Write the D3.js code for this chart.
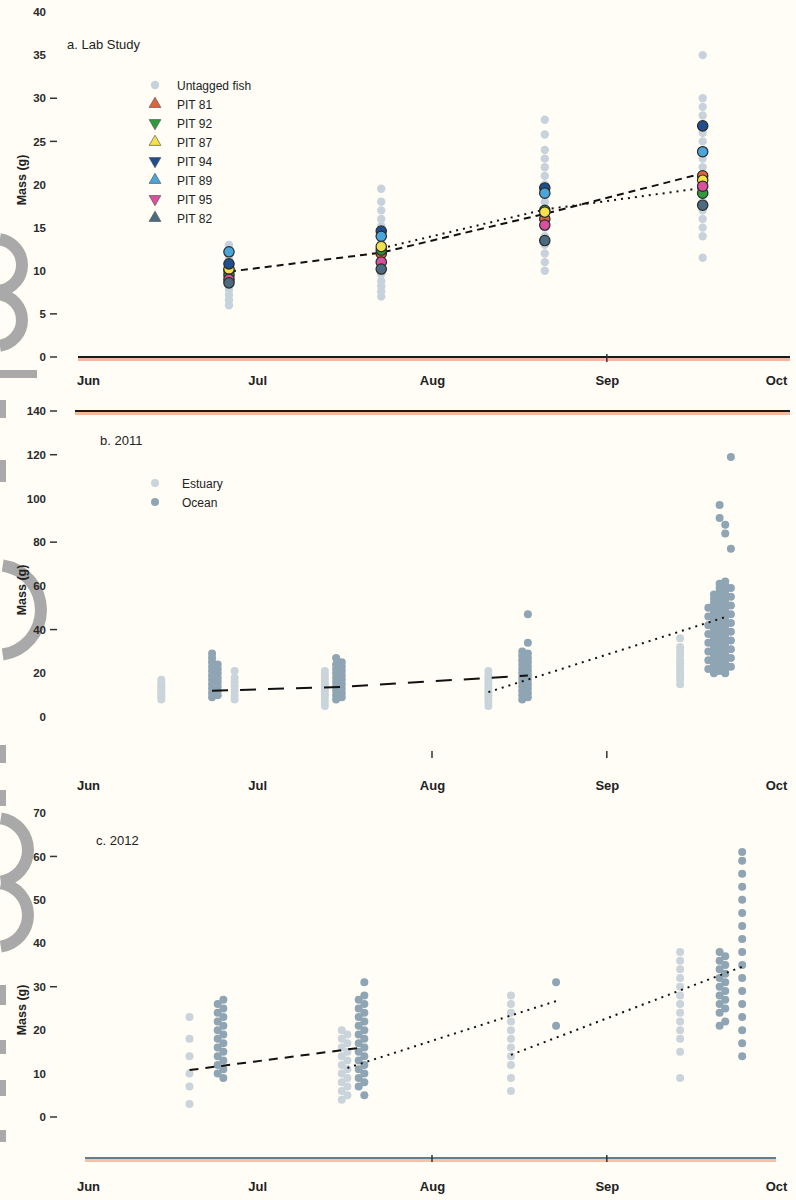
<!DOCTYPE html>
<html><head><meta charset="utf-8">
<script src="https://cdn.jsdelivr.net/npm/d3@7"></script>
<style>body{margin:0;background:#fffdf6;} svg{display:block;}</style>
</head><body>
<script>
// ---------------- DATA ----------------
const monthLabels = ["Jun","Jul","Aug","Sep","Oct"];
const yTicksA = [0,5,10,15,20,25,30,35,40];
const yTicksB = [0,20,40,60,80,100,120,140];
const yTicksC = [0,10,20,30,40,50,60,70];
const yTickMarksA = [0,5,25,30];
const yTickMarksB = [40,80,120,140];
const yTickMarksC = [0,30,60];

// Panel a: Lab study (2011)
const labDates = ["2011-06-26","2011-07-23","2011-08-21","2011-09-18"];
const untaggedLab = [
  [6,6.6,7.2,7.8,8.4,9,9.6,10.2,10.8,11.5,12.3,13],
  [7,7.6,8.2,8.8,9.6,10.4,11.2,12,12.8,13.6,14.4,15.2,16,17,18,19.5],
  [10,11,12,13,14,15,16,17,18,19,20,21,22,23,24,25.8,27.5],
  [11.5,14,15,16,17,18,19,20,21,22,23,24,25,26,27,28,29,30,35]
];
const pitNames = ["PIT 81","PIT 92","PIT 87","PIT 94","PIT 89","PIT 95","PIT 82"];
const pitColors = ["#e0643c","#2e9a3c","#f3e24a","#1f4f8f","#4aa6d8","#d9509e","#4c6b80"];
const pitShapes = ["up","down","up","down","up","down","up"];
const pitValues = [
  [10.0,12.0,16.0,21.0],
  [9.5,12.4,17.0,19.0],
  [10.2,12.8,16.8,20.5],
  [10.8,14.6,19.6,26.8],
  [12.2,14.0,19.0,23.8],
  [9.0,11.0,15.3,19.8],
  [8.6,10.2,13.5,17.6]
];
const labDashDates = ["2011-06-26","2011-07-23","2011-08-21","2011-09-18"];
const labDashValues = [9.9,12.1,16.6,21.3];
const labDotDates = ["2011-07-23","2011-08-21","2011-09-18"];
const labDotValues = [12.6,17.1,19.6];

// Panel b: 2011 field
const estuary2011Dates = ["2011-06-14","2011-06-27","2011-07-13","2011-08-11","2011-09-14"];
const estuary2011Values = [
  [8,9.5,10.5,11.5,12.5,13.5,14.5,15.5,17],
  [8,10,12,14,16,18,21],
  [5,7,9,10.5,12,13.5,15,16.5,18,19.5,21],
  [5,7,8.5,10,11.5,13,14.5,16,17.5,19,21],
  [15,17,18.5,20,21.5,23,24.5,26,28,30,32,36]
];
const ocean2011Dates = ["2011-06-23","2011-06-24","2011-07-15","2011-07-16","2011-08-17","2011-08-18",
                        "2011-09-19","2011-09-20","2011-09-21","2011-09-22","2011-09-23"];
const ocean2011Values = [
  [9,11,13,15,17,19,21,23,25,27,29],
  [10,12,14,16,18,20,22,24],
  [8,10,12,14,16,18,20,22,24,27],
  [9,11,13,15,17,19,21,23,25],
  [8,10,12,14,16,18,20,22,24,26,28,30],
  [9,11,13,15,17,19,21,23,25,27,29,34,47],
  [22,26,30,34,38,42,46,50],
  [20,22,24,26,28,30,32,34,36,38,40,42,44,46,48,50,52,54,56],
  [21,23,25,27,29,31,33,35,37,39,41,43,45,47,49,51,53,55,57,59,61,91,97],
  [20,22,24,26,28,30,32,34,36,38,40,42,44,46,48,50,52,54,56,58,60,62,84,88],
  [23,27,31,35,39,43,47,51,55,59,77,119]
];
const dash2011Dates = ["2011-06-23","2011-07-16","2011-08-18"];
const dash2011Values = [12,13.8,19];
const dot2011Dates = ["2011-08-11","2011-09-22"];
const dot2011Values = [11.4,45.7];

// Panel c: 2012 field
const estuary2012Dates = ["2012-06-19","2012-07-16","2012-07-17","2012-08-15","2012-09-14"];
const estuary2012Values = [
  [3,7,10,14,18,23],
  [4,6,8,10,12,14,16,18,20],
  [5,7,9,11,13,15,17,19],
  [6,9,12,14,16,18,20,22,24,26,28],
  [9,15,18,20,22,24,26,28,30,32,34,36,38]
];
const ocean2012Dates = ["2012-06-24","2012-06-25","2012-07-19","2012-07-20","2012-08-23",
                        "2012-09-21","2012-09-22","2012-09-25"];
const ocean2012Values = [
  [10,12,14,16,18,20,22,24,26],
  [9,11,13,15,17,19,21,23,25,27],
  [7,9,11,13,15,17,19,21,23,25,27],
  [5,8,10,12,14,16,18,20,22,24,26,28,31],
  [21,31],
  [21,24,26,28,30,32,34,36,38],
  [22,25,27,29,31,33,35,37],
  [14,17,20,23,26,29,32,35,38,41,44,47,50,53,56,59,61]
];
const dash2012Dates = ["2012-06-19","2012-07-19"];
const dash2012Values = [10.8,15.9];
const dotA2012Dates = ["2012-07-17","2012-08-23"];
const dotA2012Values = [11.3,26.7];
const dotB2012Dates = ["2012-08-15","2012-09-25"];
const dotB2012Values = [14.3,34.6];

// ---------------- DRAW ----------------
const W = 796, H = 1200;
const svg = d3.select("body").append("svg").attr("width", W).attr("height", H);
svg.append("rect").attr("width", W).attr("height", H).attr("fill", "#fffdf6");

const parse = d3.timeParse("%Y-%m-%d");
const FONT = "'Liberation Sans', Arial, sans-serif";
const estuaryColor = "#c9d4db", oceanColor = "#8fa5b3", untaggedColor = "#c6d3dc";

// left-edge grey decoration fragments
const deco = svg.append("g");
[[265,26],[320,26],[610,45],[850,32],[915,32]].forEach(([cy,r]) => {
  deco.append("path").attr("d", d3.arc()({innerRadius:r-6, outerRadius:r+6, startAngle:0.15, endAngle:Math.PI-0.15}))
    .attr("transform", `translate(-4,${cy})`).attr("fill", "#a9a9a9");
});
const decoBars = [[0,370,37,8],[0,400,6,18],[0,460,6,22],[0,745,6,18],[0,790,6,16],[0,985,6,20],[0,1040,6,14],[0,1080,6,16],[0,1130,6,12]];
svg.append("g").selectAll("rect").data(decoBars).join("rect")
  .attr("x", d=>d[0]).attr("y", d=>d[1]).attr("width", d=>d[2]).attr("height", d=>d[3]).attr("fill", "#a9a9a9");

function panel(cfg) {
  const x = d3.scaleTime().domain([parse(cfg.year+"-06-01"), parse(cfg.year+"-10-01")]).range([88, 776]);
  const y = d3.scaleLinear().domain(cfg.yDomain).range(cfg.yRange);
  const g = svg.append("g");

  const yAxis = d3.axisLeft(y).tickValues(cfg.yTicks).tickSize(0).tickPadding(0);
  const ya = g.append("g").attr("transform", "translate(46,0)").call(yAxis);
  ya.select(".domain").remove();
  ya.selectAll("text").attr("font-family", FONT).attr("font-size", 11.5).attr("font-weight", "bold").attr("fill", "#2a2a2a");
  g.selectAll(".ytm").data(cfg.yTickMarks).join("line")
    .attr("x1", 50).attr("x2", 57).attr("y1", d=>y(d)).attr("y2", d=>y(d))
    .attr("stroke", "#333").attr("stroke-width", 1.5);

  g.append("text").attr("transform", `translate(26,${cfg.titleY}) rotate(-90)`)
    .attr("text-anchor", "middle").attr("font-family", FONT).attr("font-size", 12.5).attr("font-weight", "bold")
    .attr("fill", "#222").text("Mass (g)");

  const months = d3.timeMonth.range(parse(cfg.year+"-06-01"), parse(cfg.year+"-10-02"));
  const xAxis = d3.axisBottom(x).tickValues(months).tickFormat((d,i)=>monthLabels[i]).tickSize(0).tickPadding(0);
  const xa = g.append("g").attr("transform", `translate(0,${cfg.monthY})`).call(xAxis);
  xa.select(".domain").remove();
  xa.selectAll("text").attr("dy", "0.35em").attr("font-family", FONT).attr("font-size", 13).attr("font-weight", "bold").attr("fill", "#222");

  g.append("text").attr("x", cfg.labelX).attr("y", cfg.labelY).attr("font-family", FONT).attr("font-size", 13)
    .attr("fill", "#222").text(cfg.label);

  return {g, x, y};
}

function axisLine(y0, x0, x1, color, halo) {
  svg.append("line").attr("x1", x0).attr("x2", x1).attr("y1", y0+1.5).attr("y2", y0+1.5)
    .attr("stroke", halo).attr("stroke-width", 5);
  svg.append("line").attr("x1", x0).attr("x2", x1).attr("y1", y0).attr("y2", y0)
    .attr("stroke", color).attr("stroke-width", 2);
}

function columns(g, x, y, dates, values, color, r) {
  const pts = [];
  dates.forEach((d,i) => values[i].forEach(v => pts.push({d:parse(d), v})));
  g.append("g").selectAll("circle").data(pts).join("circle")
    .attr("cx", p=>x(p.d)).attr("cy", p=>y(p.v)).attr("r", r).attr("fill", color);
}

function trend(g, x, y, dates, values, dash) {
  const line = d3.line().x(p=>x(p.d)).y(p=>y(p.v));
  g.append("path").datum(dates.map((d,i)=>({d:parse(d), v:values[i]})))
    .attr("d", line).attr("fill", "none").attr("stroke", "#111").attr("stroke-width", 2)
    .attr("stroke-dasharray", dash);
}

const sym = {up: d3.symbolTriangle, down: d3.symbolTriangle, circle: d3.symbolCircle};

// ---- Panel a ----
const A = panel({year:"2011", yDomain:[0,40], yRange:[357,12], yTicks:yTicksA, yTickMarks:yTickMarksA,
  titleY:180, monthY:380, label:"a. Lab Study", labelX:67, labelY:49});
axisLine(357, 78, 790, "#1a1a1a", "#f6b89c");
svg.append("line").attr("x1", A.x(parse("2011-09-01"))).attr("x2", A.x(parse("2011-09-01")))
  .attr("y1", 354).attr("y2", 362).attr("stroke", "#333").attr("stroke-width", 1.5);
columns(A.g, A.x, A.y, labDates, untaggedLab, untaggedColor, 4.2);
trend(A.g, A.x, A.y, labDashDates, labDashValues, "7,5");
trend(A.g, A.x, A.y, labDotDates, labDotValues, "2,5");
pitValues.forEach((vals,k) => {
  A.g.append("g").selectAll("circle").data(vals).join("circle")
    .attr("cx", (v,i)=>A.x(parse(labDates[i]))).attr("cy", v=>A.y(v)).attr("r", 5.2)
    .attr("fill", pitColors[k]).attr("stroke", "#2a2a2a").attr("stroke-width", 1.2);
});
const legA = svg.append("g");
const legAItems = [{name:"Untagged fish", color:untaggedColor, shape:"circle"}]
  .concat(pitNames.map((n,k)=>({name:n, color:pitColors[k], shape:pitShapes[k]})));
legAItems.forEach((it,i) => {
  const yy = 85 + i*19;
  legA.append("path").attr("d", d3.symbol().type(sym[it.shape]).size(it.shape==="circle"?55:60)())
    .attr("transform", `translate(155,${yy})` + (it.shape==="down" ? " rotate(180)" : ""))
    .attr("fill", it.color).attr("stroke", it.shape==="circle" ? "none" : "#444").attr("stroke-width", 0.6);
  legA.append("text").attr("x", 177).attr("y", yy+4.5).attr("font-family", FONT).attr("font-size", 12)
    .attr("fill", "#222").text(it.name);
});

// ---- Panel b ----
const B = panel({year:"2011", yDomain:[0,140], yRange:[717,411], yTicks:yTicksB, yTickMarks:yTickMarksB,
  titleY:590, monthY:785, label:"b. 2011", labelX:100, labelY:445});
axisLine(411, 75, 790, "#1a1a1a", "#f6b89c");
["2011-08-01","2011-09-01"].forEach(d => svg.append("line").attr("x1", B.x(parse(d))).attr("x2", B.x(parse(d)))
  .attr("y1", 751).attr("y2", 758).attr("stroke", "#333").attr("stroke-width", 1.5));
columns(B.g, B.x, B.y, estuary2011Dates, estuary2011Values, estuaryColor, 4);
columns(B.g, B.x, B.y, ocean2011Dates, ocean2011Values, oceanColor, 4);
trend(B.g, B.x, B.y, dash2011Dates, dash2011Values, "16,12");
trend(B.g, B.x, B.y, dot2011Dates, dot2011Values, "2,5");
const legB = svg.append("g");
[["Estuary", estuaryColor],["Ocean", oceanColor]].forEach(([n,c],i) => {
  const yy = 483 + i*19;
  legB.append("circle").attr("cx", 155).attr("cy", yy).attr("r", 4).attr("fill", c);
  legB.append("text").attr("x", 182).attr("y", yy+4.5).attr("font-family", FONT).attr("font-size", 12)
    .attr("fill", "#222").text(n);
});

// ---- Panel c ----
const C = panel({year:"2012", yDomain:[0,70], yRange:[1117,813], yTicks:yTicksC, yTickMarks:yTickMarksC,
  titleY:1010, monthY:1186, label:"c. 2012", labelX:96, labelY:845});
axisLine(1158, 85, 776, "#5d7f8e", "#f6c2aa");
["2012-08-01","2012-09-01"].forEach(d => svg.append("line").attr("x1", C.x(parse(d))).attr("x2", C.x(parse(d)))
  .attr("y1", 1155).attr("y2", 1162).attr("stroke", "#333").attr("stroke-width", 1.5));
columns(C.g, C.x, C.y, estuary2012Dates, estuary2012Values, estuaryColor, 4);
columns(C.g, C.x, C.y, ocean2012Dates, ocean2012Values, oceanColor, 4);
trend(C.g, C.x, C.y, dash2012Dates, dash2012Values, "9,7");
trend(C.g, C.x, C.y, dotA2012Dates, dotA2012Values, "2,5");
trend(C.g, C.x, C.y, dotB2012Dates, dotB2012Values, "2,5");
</script>
</body></html>
